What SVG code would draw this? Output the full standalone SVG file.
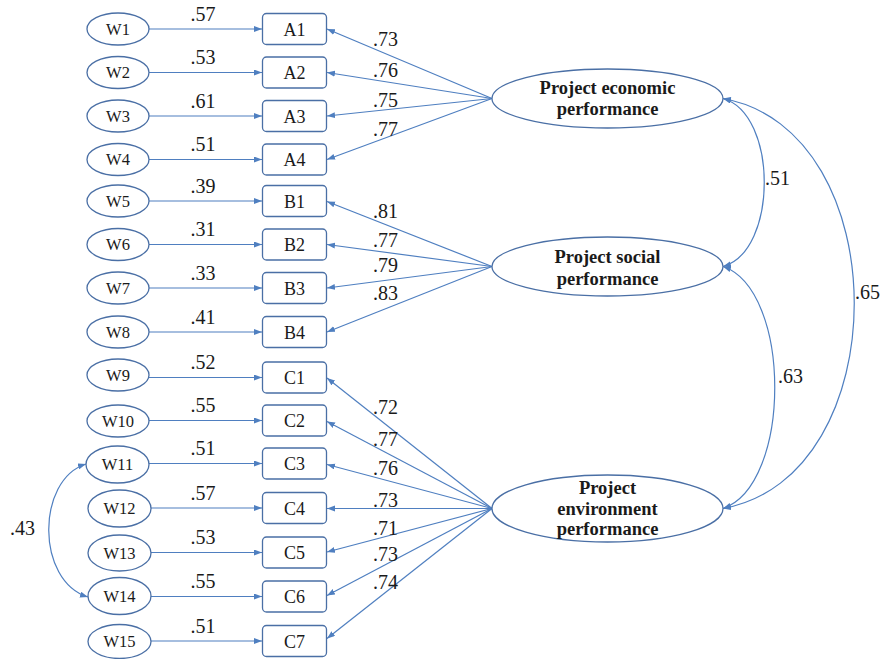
<svg xmlns="http://www.w3.org/2000/svg" width="883" height="659" viewBox="0 0 883 659">
<style>
.w{fill:#fff;stroke:#4a6fa5;stroke-width:1.3}
.b{fill:#fff;stroke:#4a6fa5;stroke-width:1.3}
.c{fill:none;stroke:#4f7fc0;stroke-width:1.2}
.wt{font-family:"Liberation Serif",serif;font-size:16.5px;fill:#1a1a1a;text-anchor:middle}
.bt{font-family:"Liberation Serif",serif;font-size:18px;fill:#1a1a1a;text-anchor:middle}
.n{font-family:"Liberation Serif",serif;font-size:20px;fill:#1a1a1a}
.nm{text-anchor:middle}
.ft{font-family:"Liberation Serif",serif;font-size:18.5px;font-weight:bold;fill:#1a1a1a;text-anchor:middle}
</style>
<defs>
<marker id="ah" markerUnits="userSpaceOnUse" markerWidth="9" markerHeight="7" refX="8" refY="3" orient="auto-start-reverse">
<path d="M0,0 L8,3 L0,6 z" fill="#4f7fc0"/>
</marker>
</defs>
<g id="connectors">
<path class="c" marker-end="url(#ah)" d="M149,29 H262"/>
<path class="c" marker-end="url(#ah)" d="M149,72.5 H262"/>
<path class="c" marker-end="url(#ah)" d="M149,116 H262"/>
<path class="c" marker-end="url(#ah)" d="M149,159.5 H262"/>
<path class="c" marker-end="url(#ah)" d="M149,201 H262"/>
<path class="c" marker-end="url(#ah)" d="M149,244.5 H262"/>
<path class="c" marker-end="url(#ah)" d="M149,288 H262"/>
<path class="c" marker-end="url(#ah)" d="M149,332 H262"/>
<path class="c" marker-end="url(#ah)" d="M149,377.5 H262"/>
<path class="c" marker-end="url(#ah)" d="M149,420.5 H262"/>
<path class="c" marker-end="url(#ah)" d="M149,463.5 H262"/>
<path class="c" marker-end="url(#ah)" d="M151,508 H262"/>
<path class="c" marker-end="url(#ah)" d="M151,552.5 H262"/>
<path class="c" marker-end="url(#ah)" d="M151,596.5 H262"/>
<path class="c" marker-end="url(#ah)" d="M151,641 H262"/>
<path class="c" marker-end="url(#ah)" d="M492,98.5 L327,29"/>
<path class="c" marker-end="url(#ah)" d="M492,98.5 L327,72.5"/>
<path class="c" marker-end="url(#ah)" d="M492,98.5 L327,116"/>
<path class="c" marker-end="url(#ah)" d="M492,98.5 L327,159.5"/>
<path class="c" marker-end="url(#ah)" d="M492,266.5 L327,201.5"/>
<path class="c" marker-end="url(#ah)" d="M492,266.5 L327,244.5"/>
<path class="c" marker-end="url(#ah)" d="M492,266.5 L327,288"/>
<path class="c" marker-end="url(#ah)" d="M492,266.5 L327,332"/>
<path class="c" marker-end="url(#ah)" d="M492,508.5 L327,378"/>
<path class="c" marker-end="url(#ah)" d="M492,508.5 L327,421.5"/>
<path class="c" marker-end="url(#ah)" d="M492,508.5 L327,464.5"/>
<path class="c" marker-end="url(#ah)" d="M492,508.5 L327,508.5"/>
<path class="c" marker-end="url(#ah)" d="M492,508.5 L327,552"/>
<path class="c" marker-end="url(#ah)" d="M492,508.5 L327,595.5"/>
<path class="c" marker-end="url(#ah)" d="M492,508.5 L327,638.5"/>
<path class="c" marker-start="url(#ah)" marker-end="url(#ah)" d="M723,98.5 C778,114 778,251 723,266.5"/>
<path class="c" marker-start="url(#ah)" marker-end="url(#ah)" d="M723,266.5 C792,290 792,485 723,508.5"/>
<path class="c" marker-start="url(#ah)" marker-end="url(#ah)" d="M723,98.5 C898,130 898,477 723,508.5"/>
<path class="c" marker-start="url(#ah)" marker-end="url(#ah)" d="M86,464 C36,480 36,581 88,597"/>
</g>
<g id="labels">
<text class="n nm" x="203" y="21">.57</text>
<text class="n nm" x="203" y="64">.53</text>
<text class="n nm" x="203" y="107.5">.61</text>
<text class="n nm" x="203" y="151">.51</text>
<text class="n nm" x="203" y="192.5">.39</text>
<text class="n nm" x="203" y="236">.31</text>
<text class="n nm" x="203" y="279.5">.33</text>
<text class="n nm" x="203" y="323.5">.41</text>
<text class="n nm" x="203" y="369">.52</text>
<text class="n nm" x="203" y="412">.55</text>
<text class="n nm" x="203" y="455">.51</text>
<text class="n nm" x="203" y="499.5">.57</text>
<text class="n nm" x="203" y="544">.53</text>
<text class="n nm" x="203" y="588">.55</text>
<text class="n nm" x="203" y="632.5">.51</text>
<text class="n" x="373" y="46">.73</text>
<text class="n" x="373" y="77">.76</text>
<text class="n" x="373" y="107">.75</text>
<text class="n" x="373" y="136">.77</text>
<text class="n" x="373" y="218">.81</text>
<text class="n" x="373" y="247">.77</text>
<text class="n" x="373" y="272">.79</text>
<text class="n" x="373" y="300">.83</text>
<text class="n" x="373" y="414">.72</text>
<text class="n" x="373" y="446">.77</text>
<text class="n" x="373" y="475">.76</text>
<text class="n" x="373" y="507">.73</text>
<text class="n" x="373" y="535">.71</text>
<text class="n" x="373" y="561">.73</text>
<text class="n" x="373" y="589">.74</text>
<text class="n" x="765" y="185">.51</text>
<text class="n" x="778" y="383">.63</text>
<text class="n" x="855" y="299">.65</text>
<text class="n" x="10" y="535">.43</text>
</g>
<g id="W1"><ellipse class="w" cx="118" cy="29" rx="31" ry="16"/><text class="wt" x="118" y="34.5">W1</text></g>
<g id="W2"><ellipse class="w" cx="118" cy="72.5" rx="31" ry="16"/><text class="wt" x="118" y="78">W2</text></g>
<g id="W3"><ellipse class="w" cx="118" cy="116" rx="31" ry="16"/><text class="wt" x="118" y="121.5">W3</text></g>
<g id="W4"><ellipse class="w" cx="118" cy="159.5" rx="31" ry="16"/><text class="wt" x="118" y="165">W4</text></g>
<g id="W5"><ellipse class="w" cx="118" cy="201" rx="31" ry="16"/><text class="wt" x="118" y="206.5">W5</text></g>
<g id="W6"><ellipse class="w" cx="118" cy="244.5" rx="31" ry="16"/><text class="wt" x="118" y="250">W6</text></g>
<g id="W7"><ellipse class="w" cx="118" cy="288" rx="31" ry="16"/><text class="wt" x="118" y="293.5">W7</text></g>
<g id="W8"><ellipse class="w" cx="118" cy="332" rx="31" ry="16"/><text class="wt" x="118" y="337.5">W8</text></g>
<g id="W9"><ellipse class="w" cx="118" cy="375" rx="31" ry="16"/><text class="wt" x="118" y="380.5">W9</text></g>
<g id="W10"><ellipse class="w" cx="118" cy="421" rx="31" ry="16"/><text class="wt" x="118" y="426.5">W10</text></g>
<g id="W11"><ellipse class="w" cx="117.5" cy="464.5" rx="31.5" ry="18.5"/><text class="wt" x="117.5" y="470">W11</text></g>
<g id="W12"><ellipse class="w" cx="119.5" cy="508.5" rx="31.5" ry="18.5"/><text class="wt" x="119.5" y="514">W12</text></g>
<g id="W13"><ellipse class="w" cx="119.5" cy="553" rx="31.5" ry="18"/><text class="wt" x="119.5" y="558.5">W13</text></g>
<g id="W14"><ellipse class="w" cx="119.5" cy="596" rx="31.5" ry="18.5"/><text class="wt" x="119.5" y="601.5">W14</text></g>
<g id="W15"><ellipse class="w" cx="119.5" cy="641.5" rx="31.5" ry="17"/><text class="wt" x="119.5" y="647">W15</text></g>
<g id="A1"><rect class="b" x="262.5" y="13.5" width="64" height="31" rx="4"/><text class="bt" x="294.5" y="35.5">A1</text></g>
<g id="A2"><rect class="b" x="262.5" y="57" width="64" height="31" rx="4"/><text class="bt" x="294.5" y="79">A2</text></g>
<g id="A3"><rect class="b" x="262.5" y="100.5" width="64" height="31" rx="4"/><text class="bt" x="294.5" y="122.5">A3</text></g>
<g id="A4"><rect class="b" x="262.5" y="144" width="64" height="31" rx="4"/><text class="bt" x="294.5" y="166">A4</text></g>
<g id="B1"><rect class="b" x="262.5" y="185.5" width="64" height="31" rx="4"/><text class="bt" x="294.5" y="207.5">B1</text></g>
<g id="B2"><rect class="b" x="262.5" y="229" width="64" height="31" rx="4"/><text class="bt" x="294.5" y="251">B2</text></g>
<g id="B3"><rect class="b" x="262.5" y="272.5" width="64" height="31" rx="4"/><text class="bt" x="294.5" y="294.5">B3</text></g>
<g id="B4"><rect class="b" x="262.5" y="316.5" width="64" height="31" rx="4"/><text class="bt" x="294.5" y="338.5">B4</text></g>
<g id="C1"><rect class="b" x="262.5" y="362" width="64" height="31" rx="4"/><text class="bt" x="294.5" y="384">C1</text></g>
<g id="C2"><rect class="b" x="262.5" y="405" width="64" height="31" rx="4"/><text class="bt" x="294.5" y="427">C2</text></g>
<g id="C3"><rect class="b" x="262.5" y="448" width="64" height="31" rx="4"/><text class="bt" x="294.5" y="470">C3</text></g>
<g id="C4"><rect class="b" x="262.5" y="492.5" width="64" height="31" rx="4"/><text class="bt" x="294.5" y="514.5">C4</text></g>
<g id="C5"><rect class="b" x="262.5" y="537" width="64" height="31" rx="4"/><text class="bt" x="294.5" y="559">C5</text></g>
<g id="C6"><rect class="b" x="262.5" y="581" width="64" height="31" rx="4"/><text class="bt" x="294.5" y="603">C6</text></g>
<g id="C7"><rect class="b" x="262.5" y="625.5" width="64" height="31" rx="4"/><text class="bt" x="294.5" y="647.5">C7</text></g>
<g id="economic"><ellipse class="w" cx="607.5" cy="98.5" rx="115.5" ry="29.5"/><text class="ft" x="607.5" y="93.5">Project economic</text><text class="ft" x="607.5" y="115">performance</text></g>
<g id="social"><ellipse class="w" cx="607.5" cy="266.5" rx="115.5" ry="29.5"/><text class="ft" x="607.5" y="263">Project social</text><text class="ft" x="607.5" y="285">performance</text></g>
<g id="environment"><ellipse class="w" cx="607.5" cy="508.5" rx="115.5" ry="33.5"/><text class="ft" x="607.5" y="493.5">Project</text><text class="ft" x="607.5" y="514.5">environment</text><text class="ft" x="607.5" y="535">performance</text></g>
</svg>
